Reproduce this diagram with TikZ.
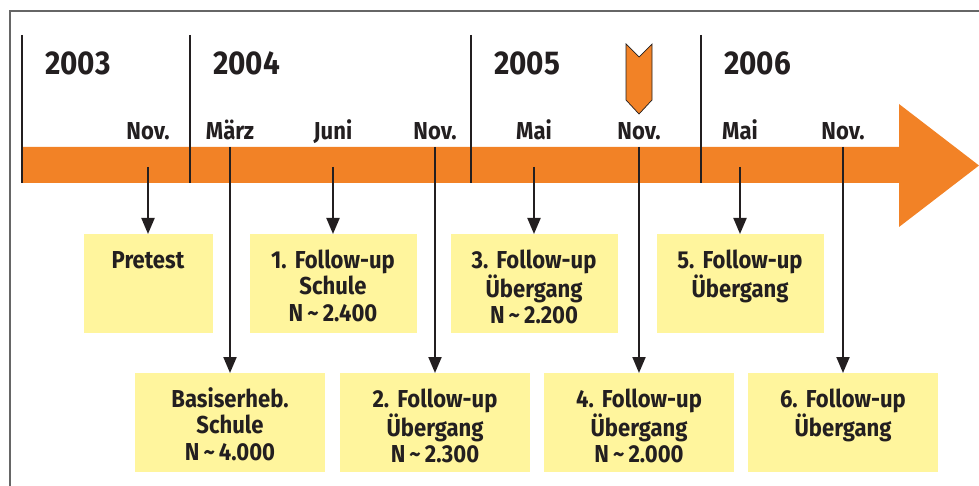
\documentclass[tikz,border=0pt]{standalone}
\usepackage{fontspec}
\setmainfont{Fira Sans}[FakeStretch=0.9]
\usetikzlibrary{arrows.meta}
\frenchspacing

\definecolor{barorange}{RGB}{242,130,38}
\definecolor{boxyellow}{RGB}{255,245,157}
\definecolor{ink}{RGB}{35,31,32}

\begin{document}
\begin{tikzpicture}[x=1pt,y=-1pt]

\tikzset{%
  frame/.style   = {draw=black!60, line width=1.3pt},
  divider/.style = {draw=ink, line width=2.2pt},
  year/.style    = {text=ink, anchor=base west, inner sep=0,
                    font=\bfseries\fontsize{33}{33}\selectfont},
  month/.style   = {text=ink, anchor=base, inner sep=0,
                    font=\bfseries\fontsize{24.5}{24.5}\selectfont},
  wave/.style    = {fill=boxyellow, text=ink, anchor=north, align=center,
                    inner sep=0, text height=34pt, text depth=65pt,
                    font=\bfseries\fontsize{24.5}{26.5}\selectfont},
  feed/.style    = {draw=ink, line width=2pt, -{Triangle[length=16pt,width=13pt]}},
}

\useasboundingbox (0,0) rectangle (979,486);

% frame, cut at the right and bottom
\draw[frame] (10,486) |- (979,11);

% time bar
\fill[barorange] (22,147) -- (899,147) -- (899,104) -- (979,165.5)
  -- (899,227) -- (899,183) -- (22,183) -- cycle;

% current wave marker
\filldraw[fill=barorange, draw=ink, line width=0.7pt]
  (626,44) -- (639,57) -- (652,44) -- (652,100) -- (639,114) -- (626,100) -- cycle;

% year dividers
\coordinate (d2003) at (22,35);
\coordinate (d2004) at (190,35);
\coordinate (d2005) at (471,35);
\coordinate (d2006) at (701,35);

\foreach \y in {2003,2004,2005,2006}{
  \draw[divider] (d\y) -- ++ (0,148);
  \node[year] (y\y) at ([shift={(23,40)}]d\y) {\y};
}

% months
\node[month] (m1) at (148,140) {Nov.};
\node[month] (m2) at (230,140) {März};
\node[month] (m3) at (333,140) {Juni};
\node[month] (m4) at (435,140) {Nov.};
\node[month] (m5) at (534,140) {Mai};
\node[month] (m6) at (639,140) {Nov.};
\node[month] (m7) at (740,140) {Mai};
\node[month] (m8) at (843,140) {Nov.};

% upper row
\node[wave, text width=129pt] (pre) at (148,234) {Pretest};
\node[wave, text width=167pt] (fu1) at (333,234) {1. Follow-up\\Schule\\N\,\char"7E\,2.400};
\node[wave, text width=167pt] (fu3) at (534,234) {3. Follow-up\\Übergang\\N\,\char"7E\,2.200};
\node[wave, text width=167pt] (fu5) at (740,234) {5. Follow-up\\Übergang};

% lower row
\node[wave, text width=190pt] (base) at (230,373) {Basiserheb.\\Schule\\N\,\char"7E\,4.000};
\node[wave, text width=190pt] (fu2)  at (435,373) {2. Follow-up\\Übergang\\N\,\char"7E\,2.300};
\node[wave, text width=190pt] (fu4)  at (639,373) {4. Follow-up\\Übergang\\N\,\char"7E\,2.000};
\node[wave, text width=190pt] (fu6)  at (843,373) {6. Follow-up\\Übergang};

% feeds from the bar
\coordinate (t1) at (148,167);
\coordinate (t2) at (230,147);
\coordinate (t3) at (333,167);
\coordinate (t4) at (435,147);
\coordinate (t5) at (534,167);
\coordinate (t6) at (639,147);
\coordinate (t7) at (740,167);
\coordinate (t8) at (843,147);

\draw[feed] (t1) -- (pre.north);
\draw[feed] (t2) -- (base.north);
\draw[feed] (t3) -- (fu1.north);
\draw[feed] (t4) -- (fu2.north);
\draw[feed] (t5) -- (fu3.north);
\draw[feed] (t6) -- (fu4.north);
\draw[feed] (t7) -- (fu5.north);
\draw[feed] (t8) -- (fu6.north);

\end{tikzpicture}
\end{document}
